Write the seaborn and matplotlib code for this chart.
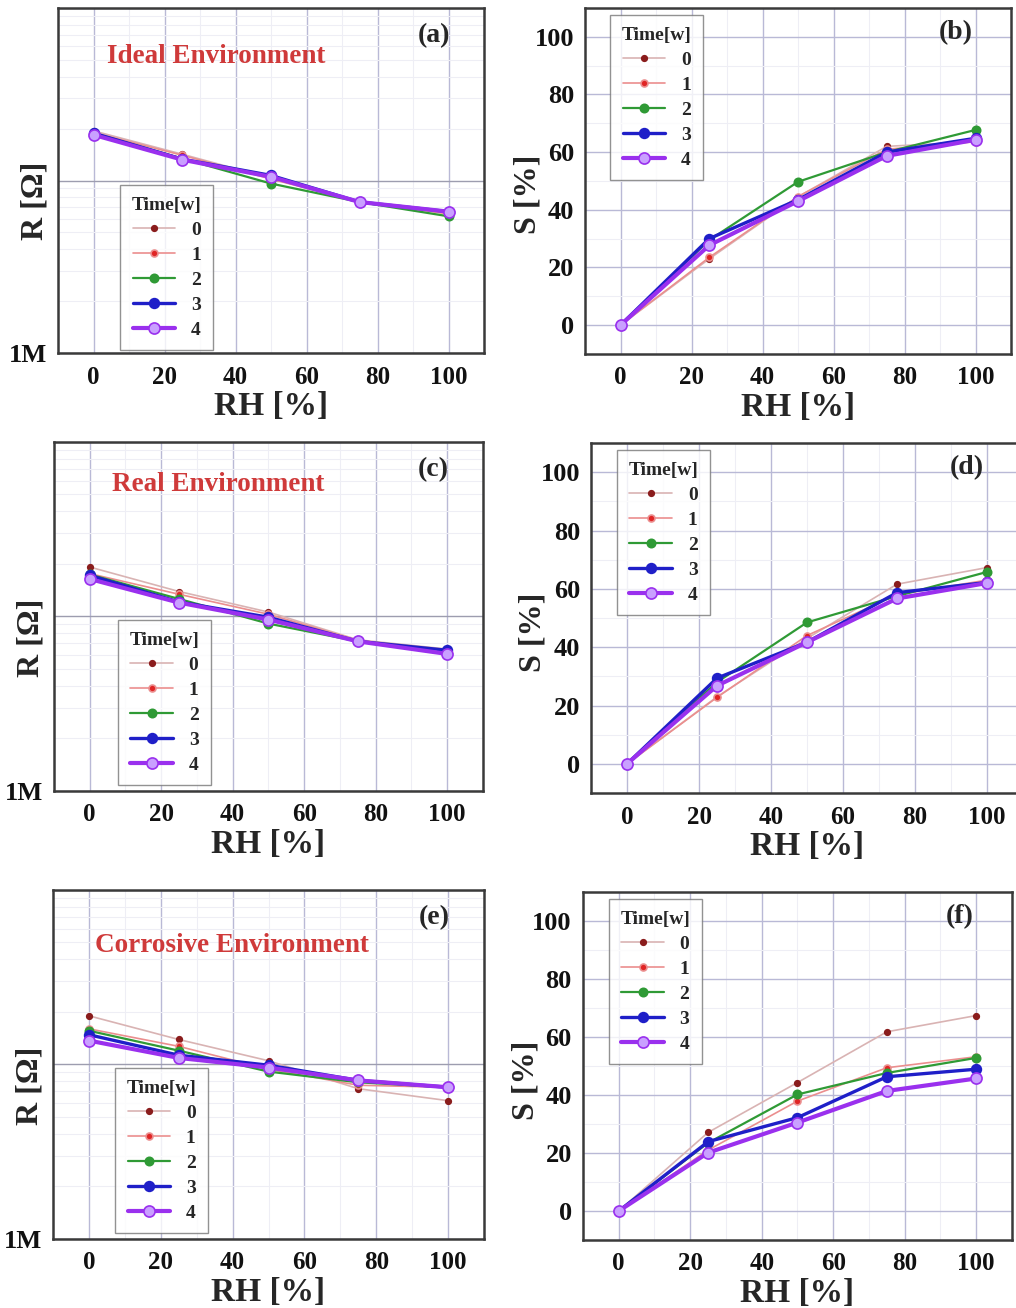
import numpy as np
import pandas as pd
import matplotlib
matplotlib.use("Agg")
import matplotlib.pyplot as plt
import seaborn as sns
from matplotlib.ticker import LogLocator, MultipleLocator, NullFormatter

# --- DATA ---
RH = [0, 25, 50, 75, 100]
WEEKS = ['0', '1', '2', '3', '4']

# resistance in MOhm, one list per week
R_IDEAL = {
    '0': [19.4, 14.2, 10.3, 7.5, 6.5],
    '1': [19.0, 14.0, 10.2, 7.5, 6.4],
    '2': [18.8, 13.4, 9.6, 7.5, 6.2],
    '3': [18.8, 13.3, 10.7, 7.5, 6.6],
    '4': [18.4, 13.2, 10.5, 7.5, 6.6],
}
R_REAL = {
    '0': [19.2, 13.9, 10.6, 7.35, 6.5],
    '1': [17.6, 13.4, 10.3, 7.3, 6.4],
    '2': [17.4, 12.6, 9.1, 7.2, 6.1],
    '3': [17.2, 12.1, 9.9, 7.2, 6.4],
    '4': [16.4, 12.0, 9.6, 7.2, 6.1],
}
R_CORR = {
    '0': [19.0, 13.9, 10.5, 7.26, 6.2],
    '1': [16.0, 12.7, 9.4, 7.6, 7.4],
    '2': [15.6, 12.0, 9.1, 7.9, 7.4],
    '3': [14.8, 11.3, 9.9, 8.1, 7.4],
    '4': [13.7, 10.9, 9.6, 8.1, 7.4],
}

# sensitivity in %
S_IDEAL = {
    '0': [0, 23.0, 44.5, 62.0, 63.6],
    '1': [0, 23.5, 44.6, 61.0, 63.6],
    '2': [0, 29.5, 49.7, 60.0, 67.7],
    '3': [0, 30.0, 43.5, 60.0, 64.8],
    '4': [0, 27.7, 43.0, 58.7, 64.3],
}
S_REAL = {
    '0': [0, 23.0, 43.0, 61.6, 67.3],
    '1': [0, 22.8, 44.0, 58.0, 63.0],
    '2': [0, 28.0, 48.5, 57.5, 65.8],
    '3': [0, 29.4, 41.7, 58.7, 62.2],
    '4': [0, 26.8, 41.7, 56.7, 62.0],
}
S_CORR = {
    '0': [0, 27.1, 44.3, 61.8, 67.4],
    '1': [0, 21.0, 37.9, 49.4, 53.2],
    '2': [0, 23.5, 40.2, 47.6, 52.8],
    '3': [0, 23.9, 32.2, 46.3, 48.9],
    '4': [0, 20.1, 30.5, 41.4, 45.7],
}

# --- STYLE ---
LINE_COLORS = {'0': '#d9b3b3', '1': '#eb8e8e', '2': '#2f9a35', '3': '#1f1fc8', '4': '#9a30ee'}
MARKER_COLORS = {'0': '#8a1c1c', '1': '#e02424', '2': '#2f9a35', '3': '#1f1fc8', '4': '#c9a0ff'}
LINE_WIDTHS = {'0': 1.2, '1': 1.2, '2': 1.6, '3': 2.4, '4': 3.0}
MARKER_SIZES = {'0': 4, '1': 5, '2': 6, '3': 7, '4': 8}

SERIF = 'Liberation Serif'
TITLE_RED = '#cf3a3a'

sns.set_style("white")
plt.rcParams['font.family'] = [SERIF, 'DejaVu Serif']
plt.rcParams['font.weight'] = 'bold'


def draw_series(ax, data):
    for w in WEEKS:
        sns.lineplot(x=RH, y=data[w], ax=ax, color=LINE_COLORS[w], lw=LINE_WIDTHS[w],
                     marker='o', markersize=MARKER_SIZES[w],
                     markerfacecolor=MARKER_COLORS[w],
                     markeredgecolor=LINE_COLORS[w] if w != '0' else MARKER_COLORS[w],
                     markeredgewidth=1.2, label=w)


def style_axes(ax):
    for s in ax.spines.values():
        s.set_color('#3a3a3a')
        s.set_linewidth(1.8)
    ax.set_xlim(-10, 110)
    ax.xaxis.set_major_locator(MultipleLocator(20))
    ax.xaxis.set_minor_locator(MultipleLocator(10))
    ax.tick_params(axis='both', which='major', direction='out', length=5, width=1.5,
                   colors='#3a3a3a', labelcolor='#111111')
    ax.tick_params(axis='x', which='major', labelsize=18, pad=4)
    ax.tick_params(axis='y', which='major', labelsize=19, pad=3)
    ax.tick_params(axis='both', which='minor', direction='out', length=3, width=1.0,
                   colors='#3a3a3a')
    ax.grid(True, which='major', color='#b9b9d6', lw=1.0)
    ax.grid(True, which='minor', color='#eeeef5', lw=0.8)
    ax.set_axisbelow(True)
    ax.set_xlabel('RH [%]', fontsize=24, fontweight='bold', labelpad=2)


def bold_ticks(ax):
    for lab in ax.get_xticklabels() + ax.get_yticklabels():
        lab.set_fontweight('bold')


def add_legend(ax, anchor):
    leg = ax.legend(title='Time[w]', loc='upper left', bbox_to_anchor=anchor,
                    fontsize=14, title_fontsize=14, frameon=True, fancybox=False,
                    edgecolor='#777777', handlelength=2.2, handletextpad=0.8,
                    labelspacing=0.38, borderpad=0.6, borderaxespad=0.0,
                    alignment='center')
    leg.get_frame().set_linewidth(1.0)
    leg.get_title().set_fontweight('bold')
    for t in leg.get_texts():
        t.set_fontweight('bold')


def r_panel(ax, data, title, letter, title_pos, leg_anchor):
    draw_series(ax, data)
    ax.set_yscale('log')
    ax.set_ylim(1, 100)
    style_axes(ax)
    ax.set_yticks([1, 10, 100])
    ax.set_yticklabels(['1M', '', ''])
    ax.yaxis.set_minor_locator(LogLocator(base=10, subs=np.arange(2, 10)))
    ax.yaxis.set_minor_formatter(NullFormatter())
    ax.grid(True, which='major', axis='y', color='#9d9daf', lw=1.0)
    bold_ticks(ax)
    ax.set_ylabel('R [Ω]', fontsize=23, fontweight='bold')
    ax.yaxis.set_label_coords(-0.02, 0.44)
    ax.text(title_pos[0], title_pos[1], title, transform=ax.transAxes, color=TITLE_RED,
            fontsize=19.5, fontweight='bold', va='center', ha='left')
    ax.text(0.92, 0.92, letter, transform=ax.transAxes, fontsize=20, fontweight='bold',
            va='center', ha='right')
    add_legend(ax, leg_anchor)


def s_panel(ax, data, letter, leg_anchor):
    draw_series(ax, data)
    ax.set_ylim(-10, 110)
    style_axes(ax)
    ax.yaxis.set_major_locator(MultipleLocator(20))
    ax.yaxis.set_minor_locator(MultipleLocator(10))
    ax.set_ylim(-10, 110)
    bold_ticks(ax)
    ax.set_ylabel('S [%]', fontsize=23, fontweight='bold')
    ax.yaxis.set_label_coords(-0.10, 0.46)
    ax.text(0.91, 0.93, letter, transform=ax.transAxes, fontsize=20, fontweight='bold',
            va='center', ha='right')
    add_legend(ax, leg_anchor)


fig = plt.figure(figsize=(10.16, 13.08), dpi=100)

ax_a = fig.add_axes([0.0571, 0.7301, 0.4193, 0.2638])
ax_b = fig.add_axes([0.5758, 0.7294, 0.4193, 0.2645])
ax_c = fig.add_axes([0.0531, 0.3953, 0.4222, 0.2668])
ax_d = fig.add_axes([0.5817, 0.3937, 0.4252, 0.2676])
ax_e = fig.add_axes([0.0522, 0.0528, 0.4242, 0.2668])
ax_f = fig.add_axes([0.5738, 0.0520, 0.4222, 0.2660])

r_panel(ax_a, R_IDEAL, 'Ideal Environment', '(a)', (0.115, 0.858), (0.146, 0.487))
s_panel(ax_b, S_IDEAL, '(b)', (0.059, 0.98))
r_panel(ax_c, R_REAL, 'Real Environment', '(c)', (0.135, 0.877), (0.149, 0.49))
s_panel(ax_d, S_REAL, '(d)', (0.06, 0.98))
r_panel(ax_e, R_CORR, 'Corrosive Environment', '(e)', (0.097, 0.842), (0.144, 0.49))
s_panel(ax_f, S_CORR, '(f)', (0.06, 0.98))

fig.savefig('out.png', dpi=100, facecolor='white')
